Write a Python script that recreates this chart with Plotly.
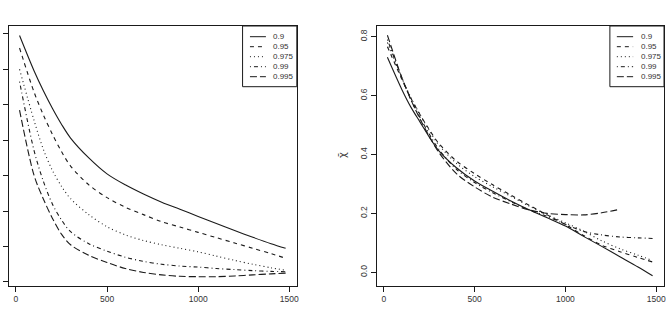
import plotly.graph_objects as go

# ---------------- data ----------------
quantiles = ["0.9", "0.95", "0.975", "0.99", "0.995"]

x_vals = [20, 100, 150, 200, 250, 300, 400, 500, 600, 700, 800, 900, 1000,
          1100, 1200, 1300, 1400, 1480]

# left panel (y-axis labels are cut off in the original; arbitrary units per tick)
left_q090 = [6.95, 5.95, 5.40, 4.90, 4.45, 4.06, 3.50, 3.05, 2.74, 2.48, 2.25,
             2.05, 1.85, 1.65, 1.45, 1.26, 1.08, 0.95]
left_q095 = [6.60, 5.35, 4.72, 4.17, 3.68, 3.27, 2.74, 2.38, 2.11, 1.90, 1.70,
             1.55, 1.40, 1.25, 1.10, 0.95, 0.80, 0.67]
left_q0975 = [6.00, 4.55, 3.75, 3.15, 2.70, 2.35, 1.90, 1.56, 1.33, 1.17, 1.05,
              0.95, 0.85, 0.73, 0.61, 0.50, 0.40, 0.33]
left_q099 = [5.65, 3.70, 2.85, 2.20, 1.75, 1.42, 1.08, 0.87, 0.70, 0.58, 0.50,
             0.45, 0.42, 0.38, 0.35, 0.32, 0.30, 0.29]
left_q0995 = [4.85, 3.00, 2.35, 1.80, 1.35, 1.05, 0.75, 0.55, 0.38, 0.27, 0.20,
              0.16, 0.15, 0.15, 0.17, 0.20, 0.23, 0.25]
left_yticks = [0, 1, 2, 3, 4, 5, 6, 7]

# right panel (chi-bar)
right_q090 = [0.730, 0.620, 0.560, 0.510, 0.460, 0.415, 0.355, 0.310, 0.275,
              0.242, 0.212, 0.185, 0.157, 0.122, 0.088, 0.053, 0.018, -0.012]
right_q095 = [0.766, 0.655, 0.590, 0.535, 0.485, 0.440, 0.378, 0.335, 0.297,
              0.262, 0.228, 0.195, 0.162, 0.125, 0.092, 0.070, 0.050, 0.035]
right_q0975 = [0.780, 0.660, 0.592, 0.535, 0.482, 0.435, 0.370, 0.325, 0.290,
               0.258, 0.225, 0.195, 0.168, 0.140, 0.107, 0.080, 0.058, 0.040]
right_q099 = [0.790, 0.660, 0.585, 0.525, 0.470, 0.420, 0.350, 0.305, 0.270,
              0.240, 0.212, 0.190, 0.163, 0.139, 0.127, 0.120, 0.117, 0.115]
x_vals_right_q0995 = [20, 100, 150, 200, 250, 300, 400, 500, 600, 700, 800,
                      900, 1000, 1100, 1200, 1300]
right_q0995 = [0.805, 0.660, 0.585, 0.520, 0.462, 0.410, 0.335, 0.290, 0.255,
               0.232, 0.212, 0.200, 0.196, 0.195, 0.202, 0.214]

x_ticks = [0, 500, 1000, 1500]
right_yticks = [0.0, 0.2, 0.4, 0.6, 0.8]

# ---------------- styles ----------------
dashes = ["solid", "4px,4px", "1px,3px", "1px,3px,4px,3px", "7px,3px"]
INK = "#1a1a1a"
FONT = "Liberation Sans, Arial, sans-serif"

fig = go.Figure()

left_series = [left_q090, left_q095, left_q0975, left_q099, left_q0995]
right_series = [right_q090, right_q095, right_q0975, right_q099, right_q0995]
right_x = [x_vals, x_vals, x_vals, x_vals, x_vals_right_q0995]

for name, ys, d in zip(quantiles, left_series, dashes):
    fig.add_trace(go.Scatter(x=x_vals, y=ys, mode="lines", name=name,
                             line=dict(color=INK, width=1.1, dash=d,
                                       shape="spline", smoothing=0.9),
                             xaxis="x", yaxis="y", showlegend=False))
for name, xs, ys, d in zip(quantiles, right_x, right_series, dashes):
    fig.add_trace(go.Scatter(x=xs, y=ys, mode="lines", name=name,
                             line=dict(color=INK, width=1.1, dash=d,
                                       shape="spline", smoothing=0.9),
                             xaxis="x2", yaxis="y2", showlegend=False))

W, H = 672, 311
def px(xp):
    return xp / W
def py(yp):
    return 1 - yp / H

axis_common = dict(showline=True, mirror=True, linecolor=INK, linewidth=1,
                   ticks="outside", ticklen=5, tickcolor=INK, tickwidth=1,
                   showgrid=False, zeroline=False,
                   tickfont=dict(family=FONT, size=8.5, color="#333"))

fig.update_layout(
    width=W, height=H,
    margin=dict(l=0, r=0, t=0, b=0),
    paper_bgcolor="white", plot_bgcolor="white",
    xaxis=dict(domain=[px(9), px(298)], range=[-38, 1543], tickvals=x_ticks,
               anchor="y", **axis_common),
    yaxis=dict(domain=[py(286), py(26)], range=[-0.113, 7.22],
               tickvals=left_yticks, ticktext=[""] * len(left_yticks),
               anchor="x", **axis_common),
    xaxis2=dict(domain=[px(378), px(666)], range=[-38, 1543], tickvals=x_ticks,
                anchor="y2", **axis_common),
    yaxis2=dict(domain=[py(286), py(26)], range=[-0.0465, 0.8363],
                tickvals=right_yticks, tickformat=".1f", tickangle=-90,
                anchor="x2", **axis_common),
    showlegend=False,
)

# y-axis title of the right panel
fig.add_annotation(text="χ\u0304", xref="paper", yref="paper",
                   x=px(343), y=py(155), showarrow=False, textangle=-90,
                   font=dict(family="DejaVu Sans, sans-serif", size=10, color="#333"))

# manual R-style legends
def add_legend(box_l, box_r, line_l, line_r, text_l):
    fig.add_shape(type="rect", xref="paper", yref="paper",
                  x0=px(box_l), x1=px(box_r), y0=py(86.7), y1=py(26),
                  line=dict(color=INK, width=1), fillcolor="white", layer="above")
    for i, (name, d) in enumerate(zip(quantiles, dashes)):
        yy = 36.7 + 10 * i
        fig.add_shape(type="line", xref="paper", yref="paper",
                      x0=px(line_l), x1=px(line_r), y0=py(yy), y1=py(yy),
                      line=dict(color=INK, width=1, dash=d), layer="above")
        fig.add_annotation(text=name, xref="paper", yref="paper",
                           x=px(text_l), y=py(yy), xanchor="left", yanchor="middle",
                           showarrow=False,
                           font=dict(family=FONT, size=8, color="#333"))

add_legend(243.3, 297.7, 250.7, 266.7, 271.5)
add_legend(611.7, 666, 618.7, 635, 640.5)

fig.write_html("out.html")
